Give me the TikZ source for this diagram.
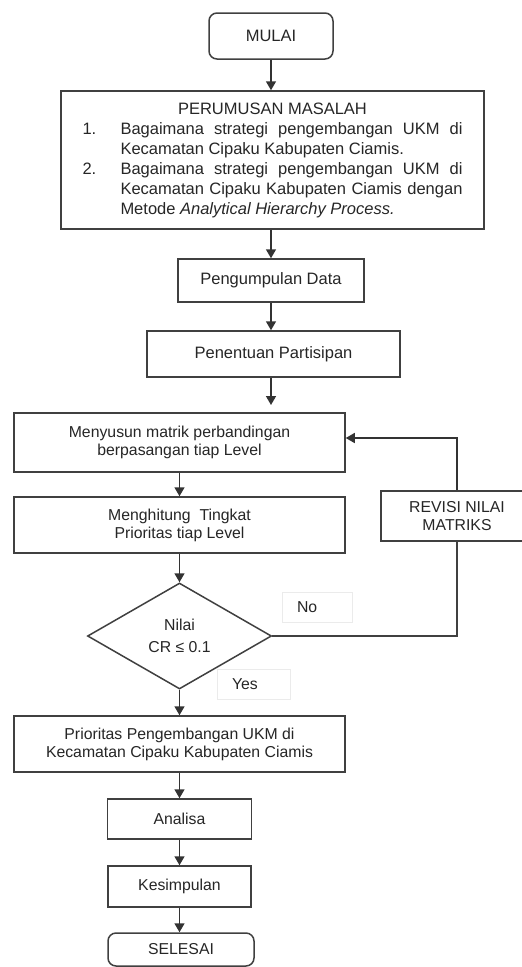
\documentclass[tikz,border=0pt]{standalone}
\usepackage{fontspec}
\setmainfont{Liberation Sans}
\usetikzlibrary{shapes.geometric,arrows.meta,calc}
\begin{document}
\begin{tikzpicture}[x=1pt,y=-1pt,
  box/.style={draw=black!75, line width=1.5pt, fill=white, inner sep=0pt, align=center,
    text=black!85, font=\fontsize{15.8}{18}\selectfont},
  bigbox/.style={box, font=\fontsize{16.5}{20}\selectfont},
  term/.style={box, rounded corners=8pt},
  dec/.style={box, shape=diamond, aspect=1.736, minimum width=184pt, minimum height=106pt},
  lbl/.style={draw=black!8, line width=0.8pt, minimum height=30pt, inner xsep=15pt, inner ysep=0pt,
    align=left, text=black!85, font=\fontsize{15.8}{18}\selectfont},
  arr/.style={draw=black!80, line width=1.5pt, -{Triangle[width=10pt,length=9pt]}},
  ln/.style={draw=black!75, line width=1.5pt}]
\path[use as bounding box, clip] (0,0) rectangle (522,967);
% top part
\node (mulai) [term, bigbox, rounded corners=8pt, minimum width=124pt, minimum height=46pt] at (271,36) {MULAI};
\node (prm) [bigbox, minimum width=423pt, minimum height=138pt] at (272.5,160) {%
\begin{tabular}{@{}l@{}l@{}}
\multicolumn{2}{c}{PERUMUSAN MASALAH}\\
\makebox[38pt][l]{1.} & \makebox[342pt][s]{Bagaimana strategi pengembangan UKM di}\\
 & Kecamatan Cipaku Kabupaten Ciamis.\\
2. & \makebox[342pt][s]{Bagaimana strategi pengembangan UKM di}\\
 & \makebox[342pt][s]{Kecamatan Cipaku Kabupaten Ciamis dengan}\\
 & Metode \textit{Analytical Hierarchy Process.}
\end{tabular}};
\node (peng) [bigbox, minimum width=186pt, minimum height=43pt] at (271,280.5) {Pengumpulan Data};
\node (pen) [bigbox, minimum width=253pt, minimum height=46pt, text depth=2pt] at (273.5,354) {Penentuan Partisipan};
\coordinate (pentip) at (271,405);
% loop section
\node (meny) [box, minimum width=331pt, minimum height=59pt] at (179.5,442.5) {Menyusun matrik perbandingan\\berpasangan tiap Level};
\node (mengh) [box, minimum width=331pt, minimum height=56pt] at (179.5,525) {Menghitung\ \ Tingkat\\Prioritas tiap Level};
\node (dia) [dec] at (179.5,636) {Nilai\\[4pt]CR ≤ 0.1};
\node (rev) [box, minimum width=152pt, minimum height=50pt] at (457,516) {REVISI NILAI\\MATRIKS};
\node (no) [lbl, text width=40pt] at (317,607) {No};
\node (yes) [lbl, text width=43pt] at (253.5,684) {Yes};
% bottom part
\node (prio) [box, minimum width=331pt, minimum height=56pt] at (179.5,744) {Prioritas Pengembangan UKM di\\Kecamatan Cipaku Kabupaten Ciamis};
\node (ana) [box, minimum width=144pt, minimum height=40pt] at (179.5,819) {Analisa};
\node (kes) [box, minimum width=143pt, minimum height=41pt] at (179.5,886.5) {Kesimpulan};
\node (sel) [term, minimum width=146pt, minimum height=33pt] at (181,949.5) {SELESAI};
% connectors
\draw[arr] (mulai.south) -- (mulai.south |- prm.north);
\draw[arr] (prm.south -| peng.north) -- (peng.north);
\draw[arr] (peng.south) -- (peng.south |- pen.north);
\draw[arr] (pen.south -| pentip) -- (pentip);
\draw[arr] (meny.south) -- (meny.south |- mengh.north);
\draw[arr] (mengh.south -| dia.north) -- (dia.north);
\draw[arr] (dia.south) -- (dia.south |- prio.north);
\draw[arr] (prio.south -| ana.north) -- (ana.north);
\draw[arr] (ana.south -| kes.north) -- (kes.north);
\draw[arr] (kes.south) -- (kes.south |- sel.north);
\draw[ln] (dia.east) -| (rev.south);
\draw[arr] (rev.north) |- ($(meny.east)+(0,-4.5)$);
\end{tikzpicture}
\end{document}
